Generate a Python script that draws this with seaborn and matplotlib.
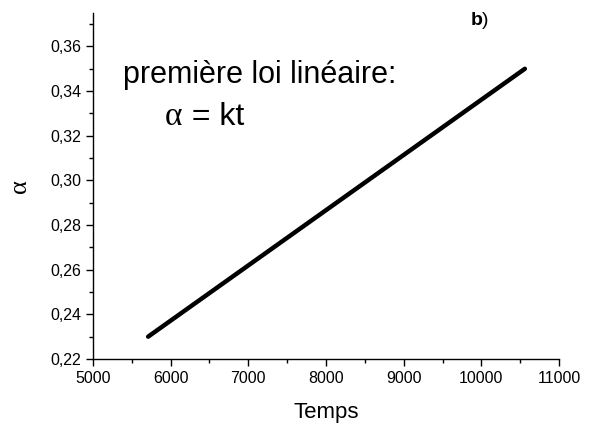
import numpy as np
import pandas as pd
import seaborn as sns
import matplotlib.pyplot as plt
from matplotlib.ticker import MultipleLocator, FuncFormatter

# data
temps = [5710, 10560]
alpha = [0.230, 0.350]

df = pd.DataFrame({'Temps': temps, 'alpha': alpha})

sns.set_style('ticks')
plt.rcParams['font.family'] = ['Liberation Sans', 'DejaVu Sans']
plt.rcParams['text.color'] = 'black'
plt.rcParams['axes.labelcolor'] = 'black'

fig = plt.figure(figsize=(5.96, 4.32), dpi=100)
ax = fig.add_axes([0.156, 0.169, 0.782, 0.801])

sns.lineplot(data=df, x='Temps', y='alpha', color='black', linewidth=3.2, ax=ax)

ax.set_xlim(5000, 11000)
ax.set_ylim(0.22, 0.375)
ax.xaxis.set_major_locator(MultipleLocator(1000))
ax.xaxis.set_minor_locator(MultipleLocator(500))
ax.yaxis.set_major_locator(MultipleLocator(0.02))
ax.yaxis.set_minor_locator(MultipleLocator(0.01))
ax.yaxis.set_major_formatter(FuncFormatter(lambda v, p: f'{v:.2f}'.replace('.', ',')))
ax.xaxis.set_major_formatter(FuncFormatter(lambda v, p: f'{v:.0f}'))

ax.tick_params(which='major', direction='out', length=5, width=1, labelsize=11.5,
               colors='black', labelcolor='black')
ax.tick_params(which='minor', direction='out', length=3, width=1, colors='black')
for s in ['top', 'right']:
    ax.spines[s].set_visible(False)
for s in ['left', 'bottom']:
    ax.spines[s].set_linewidth(1)
    ax.spines[s].set_color('black')

ax.set_xlabel('Temps', fontsize=16, labelpad=12)
ax.set_ylabel('α', fontsize=19, family='Liberation Serif', labelpad=14)

ax.text(0.064, 0.821, 'première loi linéaire:', transform=ax.transAxes,
        fontsize=22, va='center', ha='left')
a = ax.text(0.155, 0.676, 'α', transform=ax.transAxes, family='Liberation Serif',
            fontsize=24, va='baseline', ha='left')
ax.annotate(' = kt', xy=(1, 0), xycoords=a, fontsize=23, va='bottom', ha='left')

b = ax.text(0.81, 0.978, 'b', transform=ax.transAxes, fontsize=14,
            fontweight='bold', va='center', ha='left')
ax.annotate(')', xy=(1, 0.5), xycoords=b, fontsize=14, va='center', ha='left')

plt.savefig('out.png', dpi=100)
